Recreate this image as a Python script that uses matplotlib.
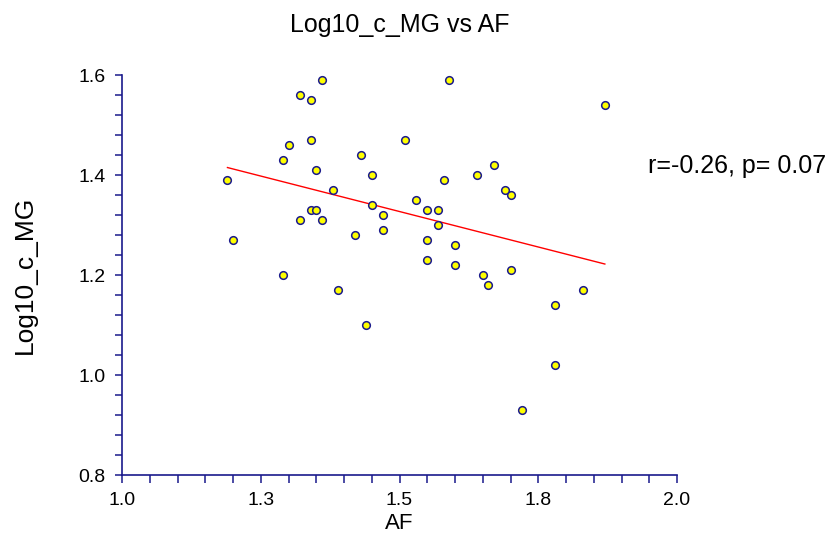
import numpy as np
import matplotlib
matplotlib.use('Agg')
import matplotlib.pyplot as plt
from matplotlib.ticker import MultipleLocator

plt.rcParams['font.family'] = ['Liberation Sans', 'DejaVu Sans']

# data
af = [1.36, 1.32, 1.34, 1.34, 1.30, 1.29, 1.35, 1.19, 1.38, 1.34,
      1.35, 1.32, 1.36, 1.42, 1.20, 1.43, 1.59, 1.87, 1.51, 1.45,
      1.58, 1.64, 1.67, 1.69, 1.70, 1.53, 1.45, 1.47, 1.55, 1.57,
      1.57, 1.47, 1.55, 1.60, 1.55, 1.60, 1.65, 1.66, 1.70, 1.83,
      1.78, 1.39, 1.44, 1.78, 1.72, 1.29]
log_mg = [1.59, 1.56, 1.55, 1.47, 1.46, 1.43, 1.41, 1.39, 1.37, 1.33,
          1.33, 1.31, 1.31, 1.28, 1.27, 1.44, 1.59, 1.54, 1.47, 1.40,
          1.39, 1.40, 1.42, 1.37, 1.36, 1.35, 1.34, 1.32, 1.33, 1.33,
          1.30, 1.29, 1.27, 1.26, 1.23, 1.22, 1.20, 1.18, 1.21, 1.17,
          1.14, 1.17, 1.10, 1.02, 0.93, 1.20]
x_ticks = [1.0, 1.25, 1.5, 1.75, 2.0]
x_tick_labels = ['1.0', '1.3', '1.5', '1.8', '2.0']
y_ticks = [0.8, 1.0, 1.2, 1.4, 1.6]
y_tick_labels = ['0.8', '1.0', '1.2', '1.4', '1.6']
stats_text = 'r=-0.26, p= 0.07'

axis_col = '#1a1a8c'

fig = plt.figure(figsize=(8.38, 5.35), dpi=100)
ax = fig.add_axes([122 / 838, 1 - 475 / 535, 555 / 838, 400 / 535])

x = np.array(af)
y = np.array(log_mg)
slope, intercept = np.polyfit(x, y, 1)
xl = np.array([x.min(), x.max()])
ax.plot(xl, intercept + slope * xl, color='red', lw=1, zorder=2)

ax.plot(x, y, 'o', ms=5.5, mfc='#ffff00', mec=axis_col, mew=1.1, zorder=3)

ax.set_xlim(1.0, 2.0)
ax.set_ylim(0.8, 1.6)
ax.set_xticks(x_ticks)
ax.set_xticklabels(x_tick_labels)
ax.set_yticks(y_ticks)
ax.set_yticklabels(y_tick_labels)
ax.xaxis.set_minor_locator(MultipleLocator(0.05))
ax.yaxis.set_minor_locator(MultipleLocator(0.04))

for s in ['top', 'right']:
    ax.spines[s].set_visible(False)
for s in ['left', 'bottom']:
    ax.spines[s].set_color(axis_col)
    ax.spines[s].set_linewidth(1.2)

ax.tick_params(which='both', direction='out', color=axis_col, width=1.1, length=5,
               labelsize=14, labelcolor='black')
ax.tick_params(axis='y', which='both', pad=7)
ax.tick_params(axis='x', which='both', length=6, pad=6)

ax.set_title('Log10_c_MG vs AF', fontsize=18, pad=31)
ax.set_xlabel('AF', fontsize=16, labelpad=3)
ax.set_ylabel('Log10_c_MG', fontsize=19, labelpad=30)

fig.text(648 / 838, 1 - 166 / 535, stats_text, fontsize=18, va='center', ha='left')

fig.savefig('out.png', dpi=100)
